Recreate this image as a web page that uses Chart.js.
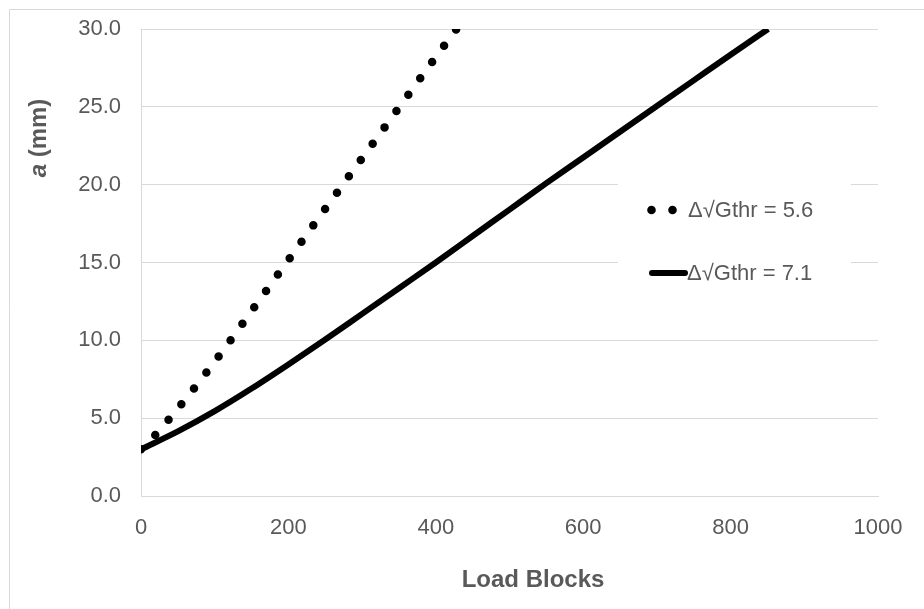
<!DOCTYPE html>
<html>
<head>
<meta charset="utf-8">
<script src="https://cdn.jsdelivr.net/npm/chart.js@4.4.0/dist/chart.umd.min.js"></script>
<style>
html, body { margin: 0; padding: 0; background: #fff; }
#wrap { width: 924px; height: 609px; }
</style>
</head>
<body>
<div id="wrap"><canvas id="chart" width="924" height="609"></canvas></div>
<script>
// load blocks vs crack length a (mm)
const blocks56 = [0, 20, 50, 100, 150, 200, 250, 300, 350, 400, 428];
const crack56 = [3.0, 3.95, 5.62, 8.63, 11.88, 15.16, 18.45, 21.7, 24.95, 28.2, 30.0];

const blocks71 = [0, 50, 100, 150, 200, 250, 300, 350, 400, 450, 500, 550, 600, 650, 700, 750, 800, 851];
const crack71 = [3.0, 4.15, 5.45, 6.9, 8.45, 10.05, 11.7, 13.35, 15.0, 16.7, 18.4, 20.1, 21.75, 23.4, 25.05, 26.7, 28.35, 30.0];

const xTicks = [0, 200, 400, 600, 800, 1000];
const yTicks = [0, 5, 10, 15, 20, 25, 30];

const seriesNames = ['Δ√Gthr = 5.6', 'Δ√Gthr = 7.1'];

const textColor = '#595959';
const gridColor = '#d9d9d9';
const fontFamily = '"Liberation Sans", Arial, sans-serif';

function toPoints(xs, ys) {
    return xs.map((x, i) => ({ x: x, y: ys[i] }));
}

const decor = {
    id: 'decor',
    beforeDraw(chart) {
        const ctx = chart.ctx;
        ctx.save();
        ctx.fillStyle = '#fff';
        ctx.fillRect(0, 0, chart.width, chart.height);
        // outer chart border (only top / left visible)
        ctx.strokeStyle = gridColor;
        ctx.lineWidth = 1;
        ctx.beginPath();
        ctx.moveTo(9.5, chart.height);
        ctx.lineTo(9.5, 9.5);
        ctx.lineTo(chart.width, 9.5);
        ctx.stroke();
        ctx.restore();
    },
    afterDraw(chart) {
        const ctx = chart.ctx;
        ctx.save();

        // legend box inside the plot
        ctx.fillStyle = '#fff';
        ctx.fillRect(618, 176, 233, 124);

        ctx.fillStyle = '#000';
        [651.5, 672.5].forEach(cx => {
            ctx.beginPath();
            ctx.arc(cx, 210, 4.3, 0, Math.PI * 2);
            ctx.fill();
        });
        ctx.strokeStyle = '#000';
        ctx.lineWidth = 6;
        ctx.lineCap = 'round';
        ctx.beginPath();
        ctx.moveTo(652, 273);
        ctx.lineTo(685, 273);
        ctx.stroke();

        ctx.font = '22px ' + fontFamily;
        ctx.fillStyle = textColor;
        ctx.textBaseline = 'middle';
        ctx.textAlign = 'left';
        ctx.fillText(seriesNames[0], 688, 211);
        ctx.fillText(seriesNames[1], 687, 274);

        // x axis title
        ctx.font = 'bold 24px ' + fontFamily;
        ctx.textAlign = 'center';
        ctx.fillText('Load Blocks', 533, 580);

        // y axis title, italic "a"
        ctx.translate(39, 138);
        ctx.rotate(-Math.PI / 2);
        ctx.textAlign = 'left';
        ctx.font = 'italic bold 24px ' + fontFamily;
        const wa = ctx.measureText('a').width;
        ctx.font = 'bold 24px ' + fontFamily;
        const wr = ctx.measureText(' (mm)').width;
        const x0 = -(wa + wr) / 2;
        ctx.font = 'italic bold 24px ' + fontFamily;
        ctx.fillText('a', x0, 0);
        ctx.font = 'bold 24px ' + fontFamily;
        ctx.fillText(' (mm)', x0 + wa, 0);

        ctx.restore();
    }
};

new Chart(document.getElementById('chart'), {
    type: 'line',
    data: {
        datasets: [
            {
                label: seriesNames[0],
                data: toPoints(blocks56, crack56),
                borderColor: '#000',
                borderWidth: 8.5,
                borderDash: [0, 20.2],
                borderCapStyle: 'round',
                pointRadius: 0,
                cubicInterpolationMode: 'monotone',
                clip: 0
            },
            {
                label: seriesNames[1],
                data: toPoints(blocks71, crack71),
                borderColor: '#000',
                borderWidth: 6,
                borderCapStyle: 'butt',
                pointRadius: 0,
                cubicInterpolationMode: 'monotone',
                clip: 0
            }
        ]
    },
    options: {
        responsive: false,
        animation: false,
        devicePixelRatio: 1,
        layout: { padding: { left: 0, top: 29, right: 46, bottom: 0 } },
        plugins: {
            legend: { display: false },
            tooltip: { enabled: false }
        },
        scales: {
            x: {
                type: 'linear',
                min: 0,
                max: 1000,
                afterBuildTicks: s => { s.ticks = xTicks.map(v => ({ value: v })); },
                afterFit: s => { s.height = 113; s.paddingLeft = 0; s.paddingRight = 0; },
                grid: { display: false, drawTicks: false },
                border: { display: true, color: gridColor, width: 1 },
                ticks: {
                    color: textColor,
                    font: { family: fontFamily, size: 22 },
                    padding: 19,
                    maxRotation: 0,
                    callback: v => String(v)
                }
            },
            y: {
                min: 0,
                max: 30,
                afterBuildTicks: s => { s.ticks = yTicks.map(v => ({ value: v })); },
                afterFit: s => { s.width = 141; s.paddingTop = 0; s.paddingBottom = 0; },
                grid: { color: gridColor, lineWidth: 1, drawTicks: false },
                border: { display: true, color: gridColor, width: 1 },
                ticks: {
                    color: textColor,
                    font: { family: fontFamily, size: 22 },
                    padding: 20,
                    callback: v => v.toFixed(1)
                }
            }
        }
    },
    plugins: [decor]
});
</script>
</body>
</html>
